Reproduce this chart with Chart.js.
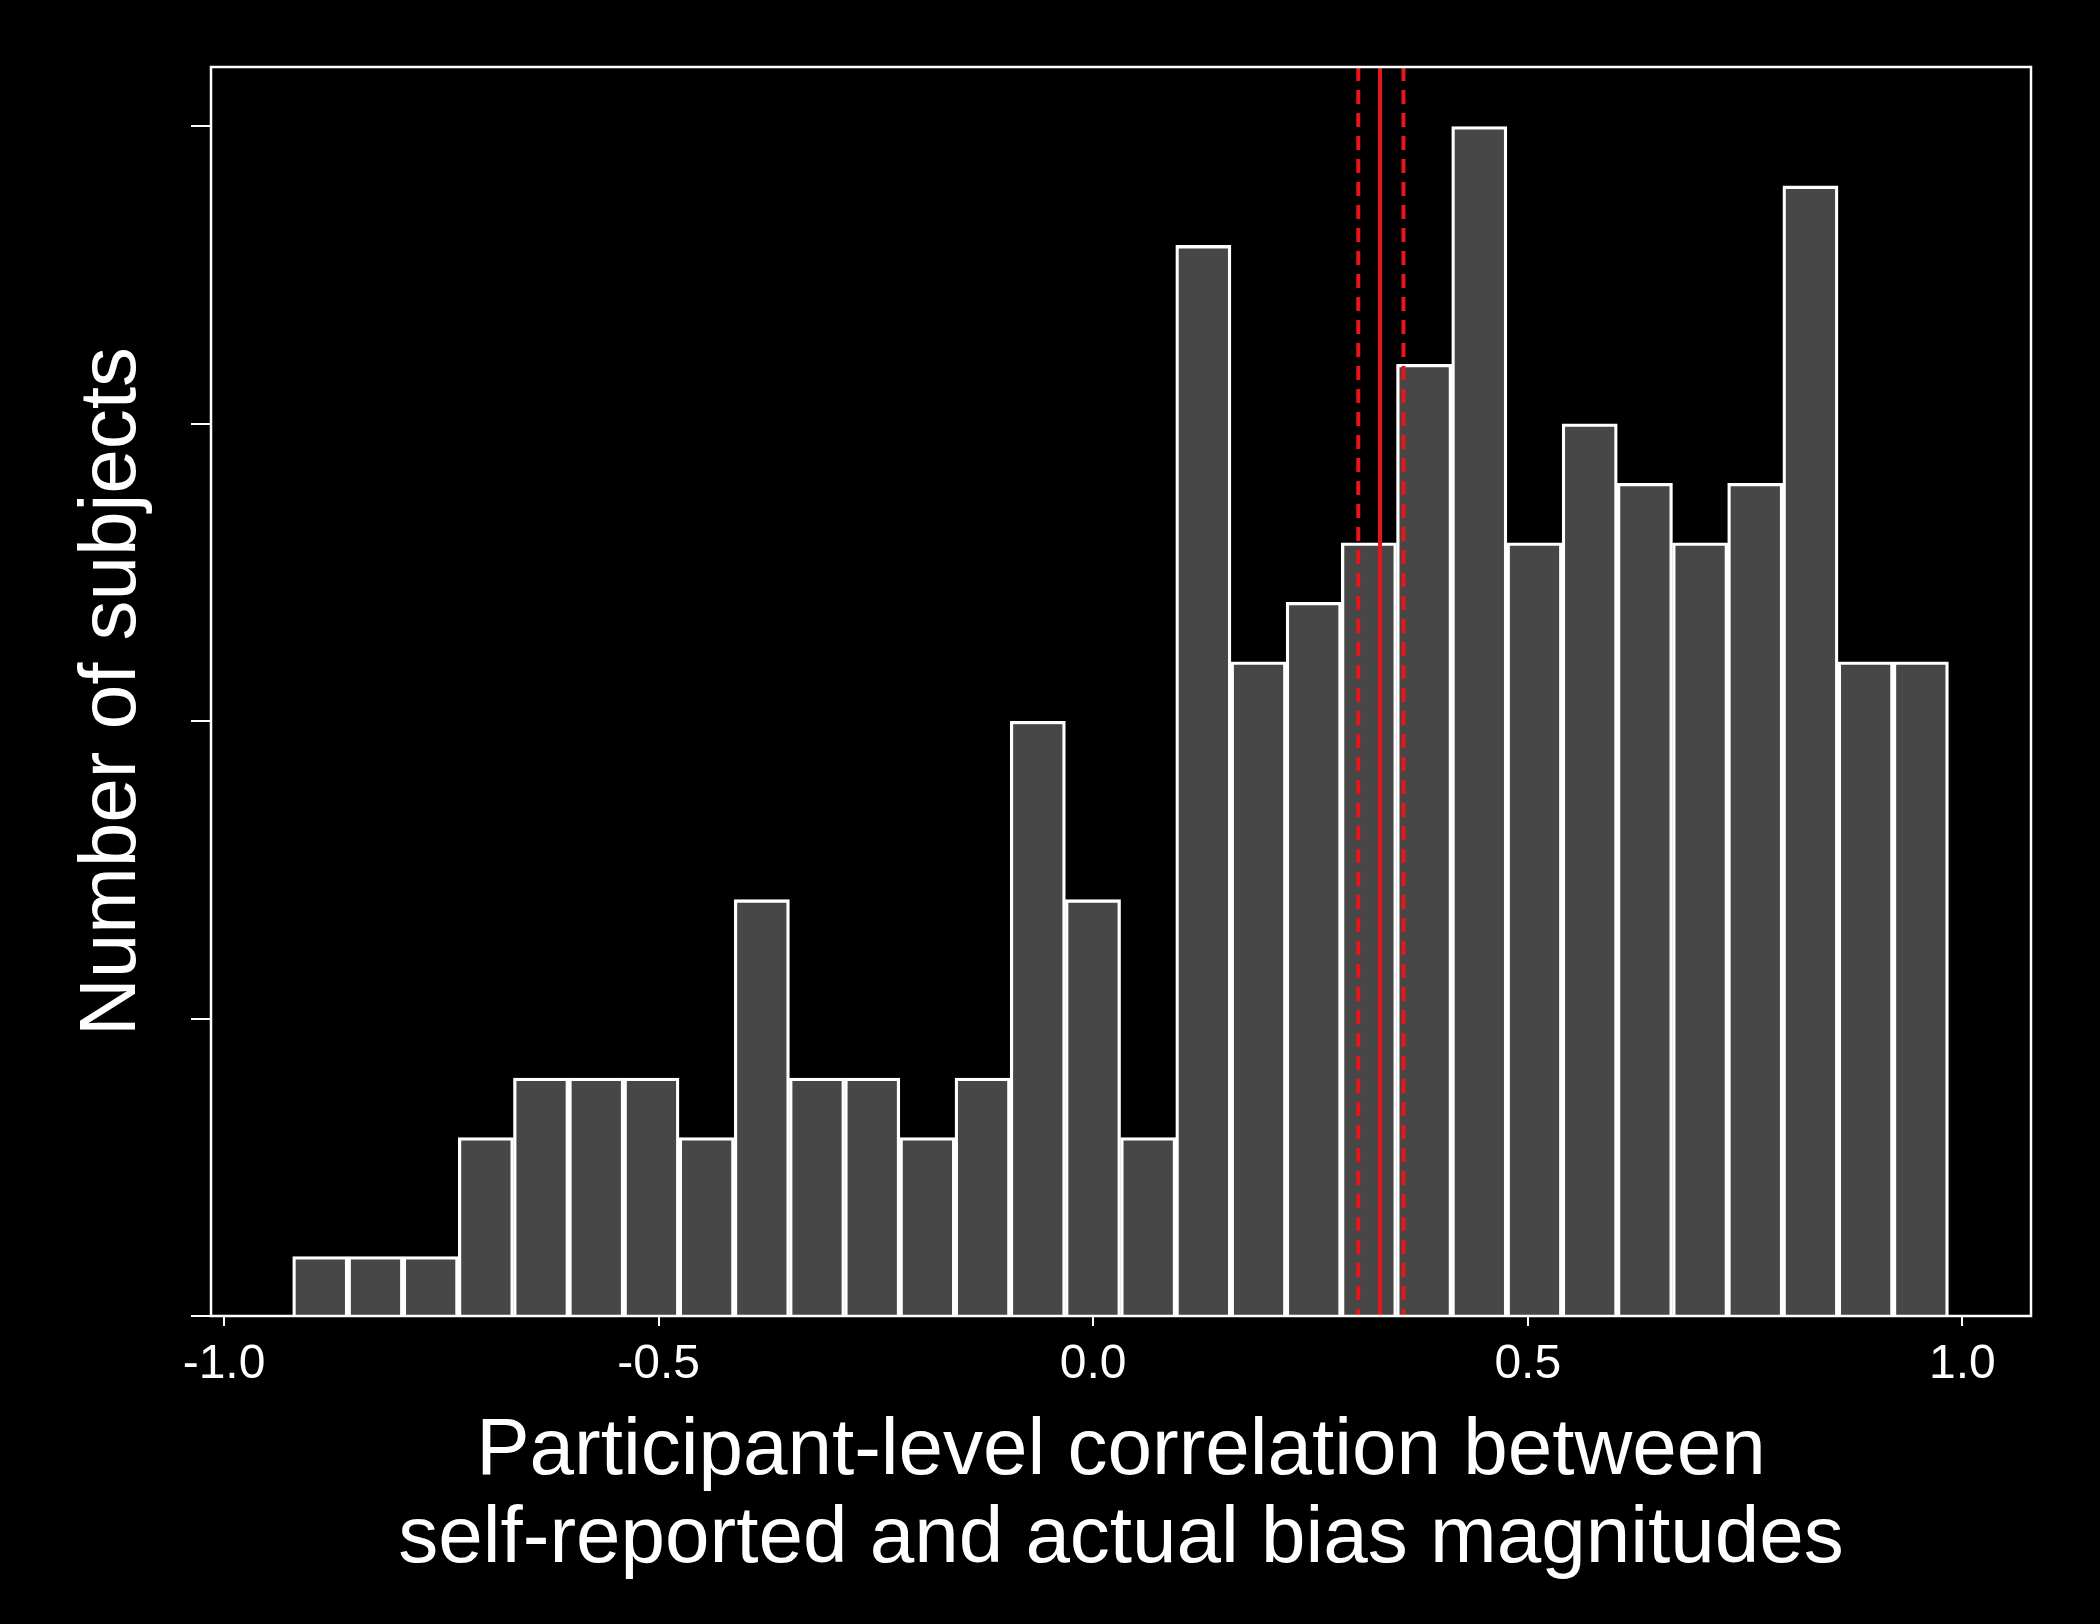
<!DOCTYPE html>
<html><head><meta charset="utf-8">
<script src="https://cdn.jsdelivr.net/npm/chart.js@4/dist/chart.umd.min.js"></script>
<style>html,body{margin:0;background:#000}#w{width:2100px;height:1624px}</style>
</head><body><div id="w"><canvas id="c"></canvas></div>
<script>
const binStart = -0.921;
const binWidth = 0.0635;
const counts = [1,1,1,3,4,4,4,3,7,4,4,3,4,10,7,3,18,11,12,13,16,20,13,15,14,13,14,19,11,11];
const meanLine = [0.330];
const ciLines = [0.305, 0.357];
const xTicks = [-1.0, -0.5, 0.0, 0.5, 1.0];
const xTitle = ["Participant-level correlation between", "self-reported and actual bias magnitudes"];
const yTitle = "Number of subjects";

const pts = counts.map((v,i)=>({x: binStart + binWidth*(i+0.5), y: v}));

const overlay = {
  id:'overlay',
  afterDatasetsDraw(ch){
    const {ctx, chartArea:a, scales:{x}} = ch;
    ctx.save();
    ctx.strokeStyle='#e8151b'; ctx.lineWidth=4;
    meanLine.forEach(v=>{const p=x.getPixelForValue(v);ctx.setLineDash([]);ctx.beginPath();ctx.moveTo(p,a.top);ctx.lineTo(p,a.bottom);ctx.stroke();});
    ciLines.forEach(v=>{const p=x.getPixelForValue(v);ctx.setLineDash([14,9]);ctx.beginPath();ctx.moveTo(p,a.top);ctx.lineTo(p,a.bottom);ctx.stroke();});
    ctx.setLineDash([]);
    ctx.strokeStyle='#fff'; ctx.lineWidth=2.5;
    ctx.strokeRect(a.left,a.top,a.right-a.left,a.bottom-a.top);
    ctx.restore();
  }
};

new Chart(document.getElementById('c'),{
  type:'bar',
  data:{datasets:[{data:pts,backgroundColor:'#474747',borderColor:'#fff',borderWidth:3.3,barPercentage:1,categoryPercentage:1}]},
  options:{
    responsive:true,maintainAspectRatio:false,animation:false,
    layout:{padding:{top:67,right:69,left:0,bottom:0}},
    plugins:{legend:{display:false},tooltip:{enabled:false}},
    scales:{
      x:{type:'linear',min:-1.015,max:1.079,offset:false,
        afterBuildTicks(s){s.ticks=xTicks.map(v=>({value:v}));},
        afterFit(s){s.height=308;},
        grid:{drawOnChartArea:false,drawTicks:true,tickLength:10,color:'#fff',lineWidth:2,offset:false},
        border:{display:false},
        ticks:{color:'#fff',font:{family:'Liberation Sans, Arial',size:48},padding:10,maxRotation:0,
          callback:v=>Number(v).toFixed(1)},
        title:{display:true,text:xTitle,color:'#fff',font:{family:'Liberation Sans, Arial',size:80,lineHeight:1.1},padding:{top:6,bottom:40}}
      },
      y:{min:0,max:21,
        afterBuildTicks(s){s.ticks=[0,5,10,15,20].map(v=>({value:v}));},
        afterFit(s){s.width=211;},
        grid:{drawOnChartArea:false,drawTicks:true,tickLength:20,color:'#fff',lineWidth:2},
        border:{display:false},
        ticks:{color:'#fff',callback:()=>'' ,padding:0},
        title:{display:true,text:yTitle,color:'#fff',font:{family:'Liberation Sans, Arial',size:80},padding:{top:65,bottom:0}}
      }
    }
  },
  plugins:[overlay]
});
</script></body></html>
